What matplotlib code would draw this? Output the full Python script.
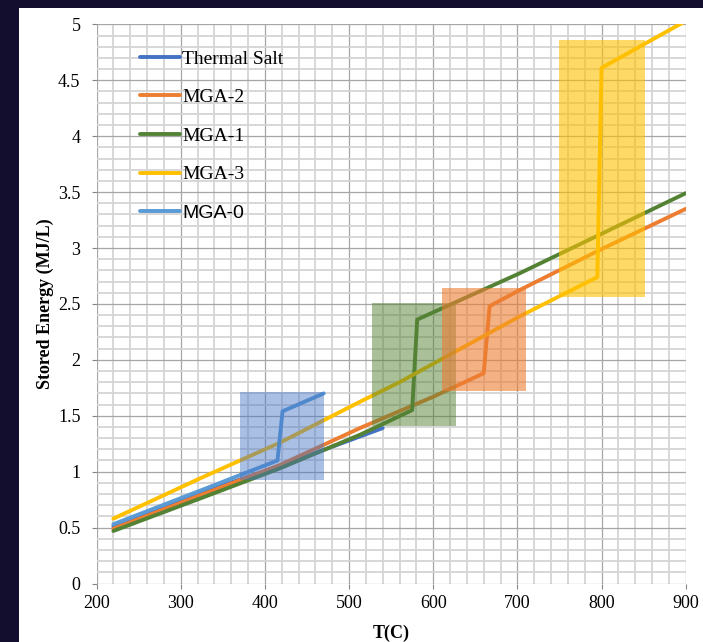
import numpy as np
import matplotlib.pyplot as plt
from matplotlib.patches import Rectangle
from matplotlib.ticker import MultipleLocator, FuncFormatter

# Stored energy curves (T in C, energy in MJ/L)
thermal_T = [220, 323, 418, 540]
thermal_E = [0.51, 0.81, 1.05, 1.39]

mga2_T = [220, 320, 418, 513, 600, 660, 667, 703, 800, 900]
mga2_E = [0.49, 0.78, 1.06, 1.39, 1.67, 1.88, 2.48, 2.625, 2.99, 3.35]

mga1_T = [220, 323, 418, 513, 575, 581, 703, 900]
mga1_E = [0.47, 0.76, 1.03, 1.33, 1.55, 2.36, 2.775, 3.49]

mga3_T = [220, 323, 418, 513, 560, 703, 795, 800, 900]
mga3_E = [0.58, 0.94, 1.26, 1.625, 1.80, 2.39, 2.74, 4.61, 5.03]

mga0_T = [220, 323, 415, 421, 470]
mga0_E = [0.53, 0.83, 1.10, 1.54, 1.70]

labels = ['Thermal Salt', 'MGA-2', 'MGA-1', 'MGA-3', 'MGA-0']
colors = ['#4472C4', '#ED7D31', '#548235', '#FFC000', '#5B9BD5']

# phase change windows: (T_min, T_max, E_min, E_max)
box_blue = (370, 470, 0.93, 1.71)
box_green = (527, 627, 1.41, 2.51)
box_orange = (610, 710, 1.72, 2.64)
box_yellow = (750, 852, 2.56, 4.86)
box_colors = ['#4472C4', '#548235', '#ED7D31', '#FFC000']
box_alpha = [0.45, 0.5, 0.6, 0.6]

plt.rcParams['font.family'] = ['Liberation Serif', 'DejaVu Serif']

fig = plt.figure(figsize=(7.03, 6.42), dpi=100, facecolor='#130e2e')
fig.add_artist(Rectangle((19 / 703, 0), 1, (642 - 8) / 642, transform=fig.transFigure,
                         facecolor='white', edgecolor='none', zorder=-5))
ax = fig.add_axes([0.1373, 0.0911, 0.8381, 0.8710])

series = [(thermal_T, thermal_E), (mga2_T, mga2_E), (mga1_T, mga1_E),
          (mga3_T, mga3_E), (mga0_T, mga0_E)]
for (t, e), lab, c in zip(series, labels, colors):
    ax.plot(t, e, color=c, lw=2.8, label=lab, solid_capstyle='round', zorder=3)

for (x0, x1, y0, y1), c, a in zip([box_blue, box_green, box_orange, box_yellow], box_colors, box_alpha):
    ax.add_patch(Rectangle((x0, y0), x1 - x0, y1 - y0, facecolor=c, edgecolor='none',
                           alpha=a, zorder=4))

ax.set_xlim(200, 900)
ax.set_ylim(0, 5)
ax.xaxis.set_major_locator(MultipleLocator(100))
ax.xaxis.set_minor_locator(MultipleLocator(20))
ax.yaxis.set_major_locator(MultipleLocator(0.5))
ax.yaxis.set_minor_locator(MultipleLocator(0.1))
ax.yaxis.set_major_formatter(FuncFormatter(lambda v, p: '%g' % v))

ax.grid(which='major', color='#a6a6a6', lw=0.9, zorder=1)
ax.grid(which='minor', color='#d4d4d4', lw=1.3, zorder=0)
ax.set_axisbelow(True)
for s in ax.spines.values():
    s.set_visible(False)

ax.tick_params(which='major', length=3.6, color='#868686', labelsize=13)
ax.tick_params(axis='y', pad=8)
ax.tick_params(axis='x', pad=5)
ax.tick_params(which='minor', length=0)

ax.set_xlabel('T(C)', fontsize=13, fontweight='bold', labelpad=9)
ax.set_ylabel('Stored Energy (MJ/L)', fontsize=13, fontweight='bold', labelpad=3)

leg = ax.legend(loc='upper left', bbox_to_anchor=(0.074, 0.954), frameon=False,
                fontsize=14, handlelength=2.06, handletextpad=0.1, labelspacing=1.08,
                borderpad=0, borderaxespad=0)
leg.get_texts()[4].set_fontfamily('Liberation Sans')

fig.savefig('out.png', dpi=100, facecolor=fig.get_facecolor())
